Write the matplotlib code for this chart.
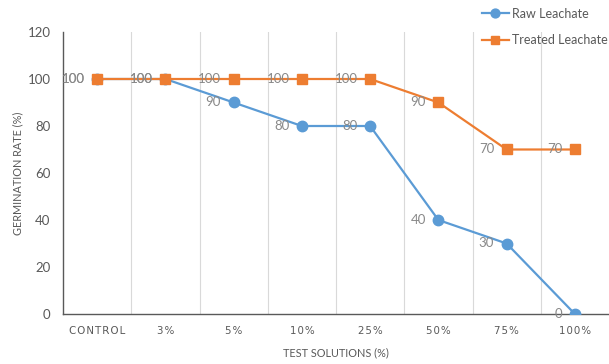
import matplotlib
matplotlib.use("Agg")
import matplotlib.pyplot as plt

categories = ["CONTROL", "3%", "5%", "10%", "25%", "50%", "75%", "100%"]
raw = [100, 100, 90, 80, 80, 40, 30, 0]
treated = [100, 100, 100, 100, 100, 90, 70, 70]
yticks = [0, 20, 40, 60, 80, 100, 120]

plt.rcParams['font.family'] = ['Lato', 'DejaVu Sans']

BLUE = "#5B9BD5"
ORANGE = "#ED7D31"
TICK = "#595959"
LAB = "#898989"

fig = plt.figure(figsize=(6.09, 3.64), dpi=100)
ax = fig.add_axes([63/609, 50/364, 546/609, 282/364])

x = list(range(len(categories)))
l1, = ax.plot(x, raw, color=BLUE, lw=1.6, marker='o', ms=7.5, label="Raw Leachate", zorder=3)
l2, = ax.plot(x, treated, color=ORANGE, lw=1.6, marker='s', ms=7.5, label="Treated Leachate", zorder=3)

for xi, v in zip(x, raw):
    ax.annotate(str(v), (xi, v), xytext=(-9, 0), textcoords='offset points',
                ha='right', va='center', fontsize=9.5, color=LAB, zorder=4)
for xi, v in zip(x, treated):
    ax.annotate(str(v), (xi, v), xytext=(-9, 0), textcoords='offset points',
                ha='right', va='center', fontsize=9.5, color=LAB, zorder=4)

ax.set_xlim(-0.5, len(categories) - 0.5)
ax.set_ylim(0, 120)
ax.set_yticks(yticks)
ax.set_xticks(x)
spaced = ["\u200a".join(list(c)) for c in categories]
ax.set_xticklabels(spaced)
for lab in ax.get_xticklabels():
    lab.set_family(['DejaVu Sans'])
    lab.set_fontsize(7.4)
ax.tick_params(axis='both', length=0, colors=TICK, labelsize=9.5)
ax.tick_params(axis='x', pad=9, labelsize=7.4)
ax.tick_params(axis='y', pad=9)

for b in [i + 0.5 for i in range(len(categories) - 1)]:
    ax.axvline(b, color="#D9D9D9", lw=0.8, zorder=0)

for s in ['top', 'right']:
    ax.spines[s].set_visible(False)
ax.spines['left'].set_color("#595959")
ax.spines['bottom'].set_color("#595959")
ax.spines['left'].set_linewidth(1.0)
ax.spines['bottom'].set_linewidth(1.0)

ax.set_ylabel("GERMINATION RATE (%)", fontsize=7.8, color=TICK, labelpad=3)
ax.set_xlabel("TEST SOLUTIONS (%)", fontsize=7.8, color=TICK, labelpad=8)

fig.legend(handles=[l1, l2], loc='upper left', bbox_to_anchor=(474/609, 1.0),
           frameon=False, fontsize=9, labelcolor=TICK, handlelength=2.2,
           handletextpad=0.2, labelspacing=1.2, borderaxespad=0.2, markerscale=0.85)

fig.savefig("out.png", dpi=100)
